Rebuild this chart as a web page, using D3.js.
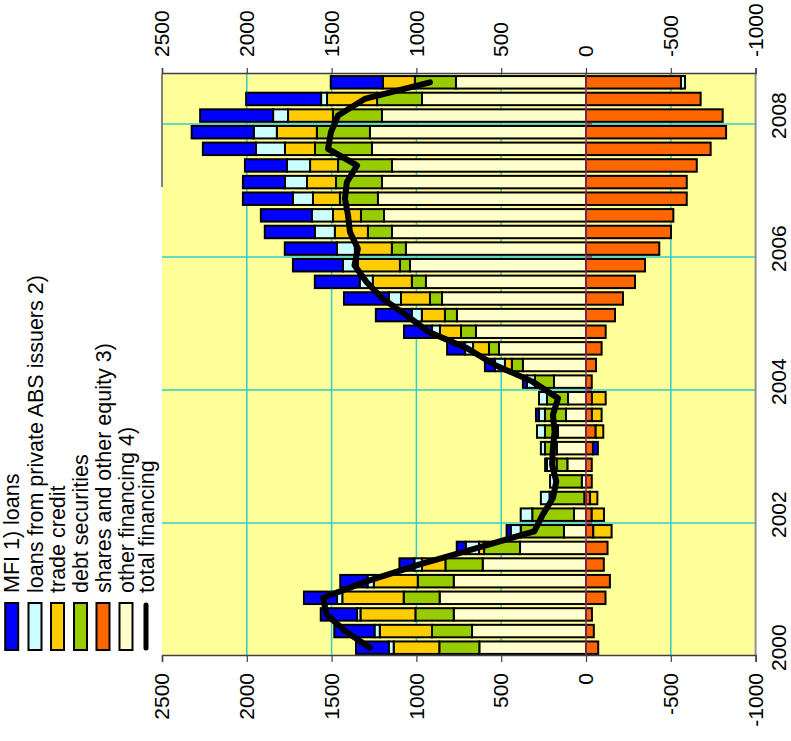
<!DOCTYPE html>
<html>
<head>
<meta charset="utf-8">
<script src="https://cdn.jsdelivr.net/npm/d3@7"></script>
<style>
  body { margin: 0; background: #ffffff; }
  svg { display: block; }
  text { font-family: "Liberation Sans", Arial, sans-serif; fill: #000; }
</style>
</head>
<body>
<svg id="chart" width="791" height="741"></svg>
<script>
// Quarterly periods, 2000 Q1 to 2008 Q3
const categories = [
  "2000Q1","2000Q2","2000Q3","2000Q4","2001Q1","2001Q2","2001Q3","2001Q4",
  "2002Q1","2002Q2","2002Q3","2002Q4","2003Q1","2003Q2","2003Q3","2003Q4",
  "2004Q1","2004Q2","2004Q3","2004Q4","2005Q1","2005Q2","2005Q3","2005Q4",
  "2006Q1","2006Q2","2006Q3","2006Q4","2007Q1","2007Q2","2007Q3","2007Q4",
  "2008Q1","2008Q2","2008Q3"
];

// Financing flows by instrument
const mfiLoans = [193, 237, 214, 195, 161, 88, 53, 24, 0, 0, 0, 10, -29, 0, 18, 0,
  24, 59, 106, 165, 212, 265, 265, 295, 307, 295, 301, 295, 248, 248, 313, 366, 430, 442, 307];
const absLoans = [29, 31, 20, 31, 37, 45, 78, 59, 68, 51, 24, 29, 24, 47, 35, 47,
  47, 59, 47, 47, 59, 71, 77, 88, 106, 118, 124, 118, 130, 136, 171, 136, 88, 35, -24];
const tradeCredit = [269, 308, 324, 362, 259, 138, 30, -108, -72, -43, 0, 29, 0, -45, -57, -81,
  0, 41, 94, 124, 136, 171, 230, 248, 218, 195, 165, 159, 171, 165, 177, 236, 265, 295, 189];
const debtSecurities = [236, 236, 226, 212, 212, 220, 212, 255, 246, 205, 163, 63, 71, 77, 124, 124,
  112, 65, 59, 88, 71, 71, 83, 59, 83, 142, 136, 224, 271, 318, 336, 313, 289, 265, 242];
const sharesEquity = [-72, -46, -35, -115, -141, -105, -127, -43, -34, -24, -34, -34, -41, -57, -35, -35,
  -34, -59, -92, -116, -171, -218, -289, -348, -432, -501, -515, -594, -594, -653, -735, -826, -806, -676, -560];
const otherFinancing = [629, 672, 780, 863, 780, 609, 389, 130, 71, 10, 25, 110, 171, 165, 118, 106,
  189, 372, 513, 649, 761, 849, 944, 1038, 1062, 1144, 1191, 1227, 1203, 1144, 1262, 1274, 1203, 967, 767];
const totalFinancing = [1275, 1420, 1530, 1550, 1290, 985, 640, 305, 255, 195, 175, 200, 195, 185, 195, 165,
  315, 537, 700, 930, 1060, 1200, 1295, 1365, 1345, 1392, 1403, 1421, 1410, 1350, 1521, 1504, 1462, 1305, 920];

// Axis labels
const valueTicks = [2500, 2000, 1500, 1000, 500, 0, -500, -1000];
const yearTicks = ["2000Q1", "2002Q1", "2004Q1", "2006Q1", "2008Q1"];
const yearLabels = ["2000", "2002", "2004", "2006", "2008"];

// Series definitions (legend order) and stacking order
const seriesInfo = [
  { key: "mfi",    label: "MFI 1) loans",                       color: "#0000FF" },
  { key: "abs",    label: "loans from private ABS issuers 2)",  color: "#CCFFFF" },
  { key: "trade",  label: "trade credit",                       color: "#FFCC00" },
  { key: "debt",   label: "debt securities",                    color: "#99CC00" },
  { key: "shares", label: "shares and other equity 3)",         color: "#FF6600" },
  { key: "other",  label: "other financing 4)",                 color: "#FFFFCC" }
];
const stackOrder = ["other", "shares", "debt", "trade", "abs", "mfi"];
const colorOf = Object.fromEntries(seriesInfo.map(s => [s.key, s.color]));

const rows = categories.map((c, i) => ({
  cat: c,
  mfi: mfiLoans[i], abs: absLoans[i], trade: tradeCredit[i],
  debt: debtSecurities[i], shares: sharesEquity[i], other: otherFinancing[i],
  total: totalFinancing[i]
}));

// The chart is laid out in an upright frame (time across, values up)
// and then turned a quarter turn counter-clockwise onto the page.
const PAGE_W = 791, PAGE_H = 741;
const svg = d3.select("#chart");
const g = svg.append("g").attr("transform", `translate(0,${PAGE_H}) rotate(-90)`);

const plot = { left: 85, right: 667, top: 162, bottom: 755.6 };

const x = d3.scaleBand()
  .domain(categories)
  .range([plot.left, plot.right])
  .paddingInner(0.25)
  .paddingOuter(0.125);

const y = d3.scaleLinear()
  .domain([-1000, 2500])
  .range([plot.bottom, plot.top]);

// Plot background
g.append("rect")
  .attr("x", plot.left).attr("y", plot.top)
  .attr("width", plot.right - plot.left).attr("height", plot.bottom - plot.top)
  .attr("fill", "#FFFF99");

// Grid lines
g.append("g").selectAll("line")
  .data(valueTicks.filter(v => v !== 0 && v !== 2500 && v !== -1000))
  .join("line")
  .attr("x1", plot.left).attr("x2", plot.right)
  .attr("y1", d => y(d)).attr("y2", d => y(d))
  .attr("stroke", "#33CCCC").attr("stroke-width", 1.5);

const step = x.step();
const boundary = c => x(c) - (step - x.bandwidth()) / 2;
g.append("g").selectAll("line")
  .data(yearTicks.slice(1))
  .join("line")
  .attr("x1", d => boundary(d)).attr("x2", d => boundary(d))
  .attr("y1", plot.top).attr("y2", plot.bottom)
  .attr("stroke", "#33CCCC").attr("stroke-width", 1.5);

// Stacked bars
const stack = d3.stack()
  .keys(stackOrder)
  .order(d3.stackOrderNone)
  .offset(d3.stackOffsetDiverging);
const layers = stack(rows);

g.append("g").selectAll("g")
  .data(layers)
  .join("g")
  .attr("fill", d => colorOf[d.key])
  .selectAll("rect")
  .data(d => d.filter(p => p[1] !== p[0]))
  .join("rect")
  .attr("x", p => x(p.data.cat))
  .attr("width", x.bandwidth())
  .attr("y", p => y(Math.max(p[0], p[1])))
  .attr("height", p => Math.abs(y(p[0]) - y(p[1])))
  .attr("stroke", "#000")
  .attr("stroke-width", 2);

// Zero line with category ticks
g.append("line")
  .attr("x1", plot.left).attr("x2", plot.right)
  .attr("y1", y(0)).attr("y2", y(0))
  .attr("stroke", "#993366").attr("stroke-width", 1.5);
g.append("g").selectAll("line")
  .data(yearTicks.slice(1))
  .join("line")
  .attr("x1", d => boundary(d)).attr("x2", d => boundary(d))
  .attr("y1", y(0)).attr("y2", y(0) + 6)
  .attr("stroke", "#993366").attr("stroke-width", 1.5);

// Total financing line
const line = d3.line()
  .x(d => x(d.cat) + x.bandwidth() / 2)
  .y(d => y(d.total));
g.append("path")
  .datum(rows)
  .attr("d", line)
  .attr("fill", "none")
  .attr("stroke", "#000")
  .attr("stroke-width", 6)
  .attr("stroke-linejoin", "round")
  .attr("stroke-linecap", "round");

// Plot frame
g.append("line")
  .attr("x1", plot.left).attr("x2", plot.right)
  .attr("y1", plot.bottom).attr("y2", plot.bottom)
  .attr("stroke", "#909090").attr("stroke-width", 2);
g.append("line")
  .attr("x1", 554).attr("x2", plot.right)
  .attr("y1", plot.top).attr("y2", plot.top)
  .attr("stroke", "#808080").attr("stroke-width", 2);

// Value axes on both sides
const fmt = d => String(d);
const leftAxis = d3.axisLeft(y).tickValues(valueTicks).tickFormat(fmt).tickSize(6).tickPadding(11);
const rightAxis = d3.axisRight(y).tickValues(valueTicks).tickFormat(fmt).tickSize(6).tickPadding(11);

const la = g.append("g").attr("transform", `translate(${plot.left},0)`).call(leftAxis);
const ra = g.append("g").attr("transform", `translate(${plot.right},0)`).call(rightAxis);
[la, ra].forEach(a => {
  a.select(".domain").attr("stroke", "#404040").attr("stroke-width", 1.5);
  a.selectAll(".tick line").attr("stroke", "#404040").attr("stroke-width", 1.2);
  a.selectAll(".tick text")
    .attr("font-size", 21)
    .attr("font-family", "'Liberation Sans', Arial, sans-serif")
    .attr("fill", "#000");
});

// Year labels under the time axis
g.append("g").selectAll("text")
  .data(yearTicks)
  .join("text")
  .attr("x", d => x(d) + x.bandwidth() / 2)
  .attr("y", 786)
  .attr("text-anchor", "middle")
  .attr("font-size", 21)
  .text((d, i) => yearLabels[i]);

// Legend
const legend = g.append("g");
const rowY = [11.7, 35, 57.5, 80.5, 103, 126, 146];
const items = seriesInfo.map(s => ({ label: s.label, color: s.color, kind: "box" }))
  .concat([{ label: "total financing", color: "#000", kind: "line" }]);
items.forEach((it, i) => {
  const cy = rowY[i];
  if (it.kind === "box") {
    legend.append("rect")
      .attr("x", 91).attr("y", cy - 6.5)
      .attr("width", 47).attr("height", 13)
      .attr("fill", it.color)
      .attr("stroke", "#000").attr("stroke-width", 2);
  } else {
    legend.append("line")
      .attr("x1", 93).attr("x2", 136)
      .attr("y1", cy).attr("y2", cy)
      .attr("stroke", "#000").attr("stroke-width", 5)
      .attr("stroke-linecap", "round");
  }
  legend.append("text")
    .attr("x", 148).attr("y", cy + 7.5)
    .attr("font-size", 21.5)
    .text(it.label);
});
</script>
</body>
</html>
